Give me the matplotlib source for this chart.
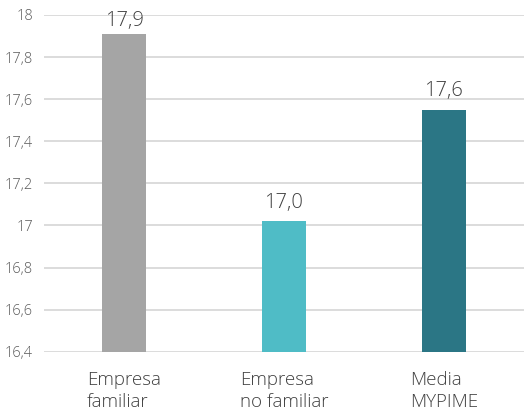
import matplotlib.pyplot as plt
from matplotlib.ticker import FuncFormatter

categorias = ["Empresa\nfamiliar", "Empresa\nno familiar", "Media\nMYPIME"]
valores = [17.91, 17.02, 17.55]
colores = ["#a5a5a5", "#4fbcc6", "#2b7685"]
marcas_y = [16.4, 16.6, 16.8, 17.0, 17.2, 17.4, 17.6, 17.8, 18.0]

plt.rcParams["font.family"] = ["Open Sans", "DejaVu Sans"]

fig = plt.figure(figsize=(5.27, 4.15), dpi=100)
ax = fig.add_axes([0.0835, 0.1525, 0.9105, 0.8114])

pos = range(len(categorias))
barras = ax.bar(pos, valores, width=0.275, color=colores, zorder=3)

for b, v in zip(barras, valores):
    # la etiqueta de la barra más alta queda más pegada por el borde superior
    dy = 6 if v > 17.8 else 9.5
    ax.annotate(f"{v:.1f}".replace(".", ","),
                (b.get_x() + b.get_width() / 2, v),
                xytext=(0, dy), textcoords="offset points",
                ha="center", va="baseline", fontsize=14.5,
                fontweight="light", color="#404040")

ax.set_xlim(-0.5, len(categorias) - 0.5)
ax.set_ylim(16.4, 18.0)
ax.set_yticks(marcas_y)
ax.yaxis.set_major_formatter(
    FuncFormatter(lambda y, _: f"{y:g}".replace(".", ",")))
ax.grid(axis="y", color="#d9d9d9", linewidth=1.3, zorder=0)

ax.set_xticks(list(pos))
ax.set_xticklabels(categorias, fontsize=13.5, fontweight="light",
                   color="#404040", multialignment="left", linespacing=1.25)
ax.tick_params(axis="x", length=0, pad=14)
ax.tick_params(axis="y", length=0, pad=8, labelsize=10.5, labelcolor="#595959")
for lbl in ax.get_yticklabels():
    lbl.set_fontweight("light")

for s in ax.spines.values():
    s.set_visible(False)

fig.savefig("out.png", dpi=100)
